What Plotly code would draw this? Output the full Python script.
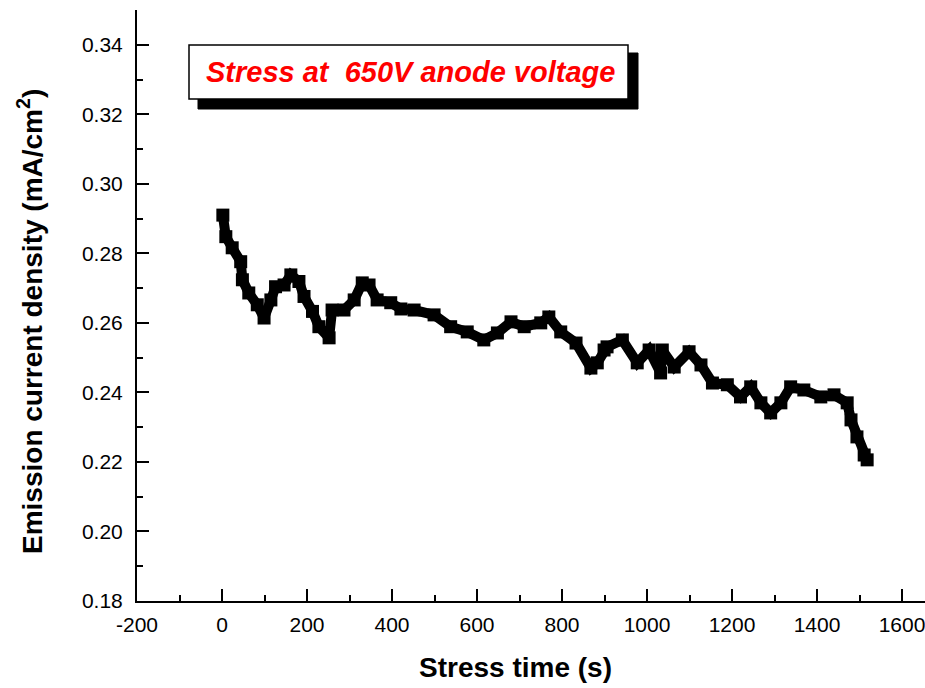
import plotly.graph_objects as go

stress_time = [2, 9, 24, 44, 48, 63, 83, 99, 115, 126, 146, 162, 181, 193, 213, 228, 252, 259,
               287, 311, 330, 346, 365, 397, 421, 452, 499, 538, 577, 616, 648, 680, 711, 750,
               769, 797, 833, 868, 883, 899, 906, 942, 977, 1005, 1032, 1036, 1064, 1099, 1127,
               1154, 1189, 1220, 1244, 1268, 1291, 1315, 1338, 1369, 1409, 1440, 1471, 1480,
               1494, 1511, 1518]
current_density = [0.2910, 0.2848, 0.2816, 0.2776, 0.2724, 0.2686, 0.2652, 0.2614, 0.2666, 0.2704,
                   0.2709, 0.2738, 0.2719, 0.2676, 0.2633, 0.2589, 0.2557, 0.2637, 0.2637, 0.2666,
                   0.2715, 0.2709, 0.2666, 0.2658, 0.2640, 0.2637, 0.2623, 0.2589, 0.2574, 0.2551,
                   0.2571, 0.2603, 0.2589, 0.2600, 0.2617, 0.2574, 0.2542, 0.2470, 0.2485, 0.2522,
                   0.2531, 0.2551, 0.2485, 0.2522, 0.2456, 0.2522, 0.2473, 0.2517, 0.2479, 0.2427,
                   0.2422, 0.2387, 0.2416, 0.2370, 0.2341, 0.2370, 0.2416, 0.2407, 0.2387, 0.2393,
                   0.2370, 0.2321, 0.2272, 0.2220, 0.2206]

x_ticks = [-200, 0, 200, 400, 600, 800, 1000, 1200, 1400, 1600]
y_ticks = [0.18, 0.20, 0.22, 0.24, 0.26, 0.28, 0.30, 0.32, 0.34]

FONT = "Liberation Sans, Arial, sans-serif"

fig = go.Figure()
fig.add_trace(go.Scatter(
    x=stress_time, y=current_density, mode="lines+markers",
    line=dict(color="black", width=10),
    marker=dict(symbol="square", size=13, color="black"),
    showlegend=False,
))

L, T, B, W, H = 137, 10, 87, 925, 688
pw = W - L
ph = H - T - B

def px(x):
    return (x - L) / pw

def py(y):
    return (H - B - y) / ph

fig.update_layout(
    width=W, height=H,
    margin=dict(l=L, r=0, t=T, b=B),
    plot_bgcolor="white", paper_bgcolor="white",
    font=dict(family=FONT, size=21, color="black"),
    xaxis=dict(
        range=[-200, -200 + pw / 0.425], tickmode="array", tickvals=x_ticks,
        ticktext=[str(v) for v in x_ticks],
        showline=True, linecolor="black", linewidth=2, mirror=False,
        ticks="inside", ticklen=12, tickwidth=1.5, tickcolor="black",
        minor=dict(ticks="inside", ticklen=6, tickwidth=1.5, tickcolor="black", dtick=100),
        showgrid=False, zeroline=False, tickfont=dict(size=21),
        ticklabeloverflow="allow", ticklabelstandoff=4,
    ),
    yaxis=dict(
        range=[0.18, 0.35], tickmode="array", tickvals=y_ticks,
        ticktext=["%.2f" % v for v in y_ticks],
        showline=True, linecolor="black", linewidth=2, mirror=False,
        ticks="inside", ticklen=12, tickwidth=1.5, tickcolor="black",
        minor=dict(ticks="inside", ticklen=6, tickwidth=1.5, tickcolor="black", dtick=0.01),
        showgrid=False, zeroline=False, tickfont=dict(size=21),
        ticklabeloverflow="allow", ticklabelstandoff=8,
    ),
)

# text box with shadow
fig.add_shape(type="rect", xref="paper", yref="paper",
              x0=px(198), x1=px(638), y0=py(109), y1=py(53),
              fillcolor="black", line=dict(color="black", width=1))
fig.add_shape(type="rect", xref="paper", yref="paper",
              x0=px(189), x1=px(628), y0=py(99), y1=py(45),
              fillcolor="white", line=dict(color="black", width=1.5))
fig.add_annotation(xref="paper", yref="paper", x=px(410), y=py(72),
                   text="<b><i>Stress at  650V anode voltage</i></b>", showarrow=False,
                   font=dict(family=FONT, size=29, color="red"),
                   xanchor="center", yanchor="middle")

# axis titles
fig.add_annotation(xref="paper", yref="paper", x=px(515), y=py(667),
                   text="<b>Stress time (s)</b>", showarrow=False,
                   font=dict(family=FONT, size=28, color="black"),
                   xanchor="center", yanchor="middle")
fig.add_annotation(xref="paper", yref="paper", x=px(30), y=py(322),
                   text="<b>Emission current density (mA/cm<sup>2</sup>)</b>", showarrow=False,
                   textangle=-90,
                   font=dict(family=FONT, size=28, color="black"),
                   xanchor="center", yanchor="middle")

fig.write_html("out.html")
